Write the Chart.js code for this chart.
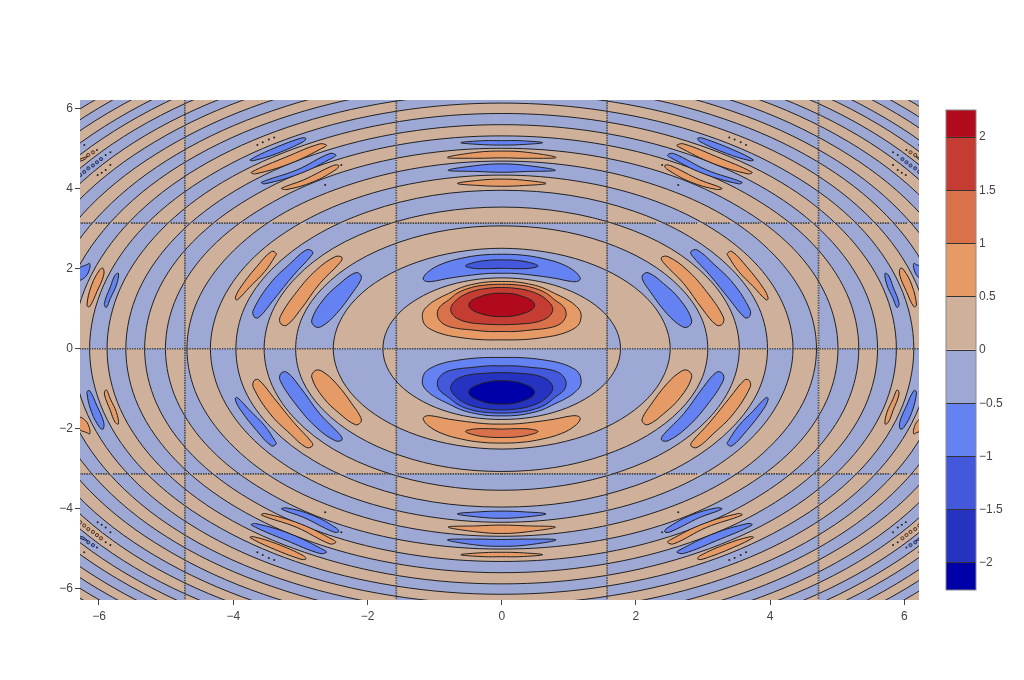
<!DOCTYPE html>
<html>
<head>
<meta charset="utf-8">
<script src="https://cdn.jsdelivr.net/npm/chart.js@4"></script>
<style>
  body { margin: 0; background: #fff; }
  #plot, #bar { position: absolute; top: 0; }
  #plot { left: 0; }
  #bar { left: 930px; }
</style>
</head>
<body>
<canvas id="plot" width="1024" height="680"></canvas>
<canvas id="bar" width="94" height="680"></canvas>
<script>
const xTicks = [-6, -4, -2, 0, 2, 4, 6];
const yTicks = [-6, -4, -2, 0, 2, 4, 6];
const barTicks = [-2, -1.5, -1, -0.5, 0, 0.5, 1, 1.5, 2];
const barLevels = [-2.254, -2, -1.5, -1, -0.5, 0, 0.5, 1, 1.5, 2, 2.254];

// fills, index 0 is the band next to zero
const upperFills = ["#cfb09a", "#e69a66", "#d9714a", "#c43c32", "#b10a1c"];
const lowerFills = ["#9da8d4", "#6482f2", "#4458dc", "#2632c0", "#0000a8"];

// where the pattern flips
const xBreaks = [-7, -4.72, -1.57, 1.57, 4.72, 7];
const yBreaks = [7, 3.14, 0, -3.13, -7];
// +1: the disc around the origin would be tan in this panel, -1: blue
const panelSigns = [
  [-1, 1, -1, 1, -1],
  [1, -1, 1, -1, 1],
  [-1, 1, -1, 1, -1],
  [1, -1, 1, -1, 1],
];
// pieces of the line at y = +-pi, right half, it breaks where a ring crosses
const piLineRuns = [[0,1.55],[1.64,2.31],[2.41,2.91],[3.0,3.41],[3.48,3.86],[3.9,4.25],[4.3,4.6],[4.66,4.93],[4.98,5.22],[5.27,5.52],[5.56,5.79],[5.83,6.05],[6.1,6.3]];

// zero contours, one quarter of each ring, x going from the x axis up to the y axis
const ringArcs = [
  [1.77, 1.71, 1.53, 1.25, 0.89, 0.46, 0],
  [2.51, 2.42, 2.17, 1.77, 1.25, 0.65, 0],
  [3.07, 2.97, 2.66, 2.17, 1.53, 0.79, 0],
  [3.54, 3.42, 3.07, 2.51, 1.77, 0.92, 0],
  [3.96, 3.83, 3.43, 2.8, 1.98, 1.03, 0],
  [4.34, 4.19, 3.76, 3.07, 2.17, 1.12, 0],
  [4.69, 4.53, 4.06, 3.32, 2.34, 1.21, 0],
  [5.01, 4.84, 4.34, 3.54, 2.51, 1.3, 0],
  [5.32, 5.14, 4.61, 3.76, 2.66, 1.38, 0],
  [5.6, 5.41, 4.85, 3.96, 2.8, 1.45, 0],
  [5.88, 5.68, 5.09, 4.16, 2.94, 1.52, 0],
  [6.14, 5.93, 5.32, 4.34, 3.07, 1.59, 0],
  [6.39, 6.17, 5.53, 4.52, 3.2, 1.65, 0],
  [6.63, 6.4, 5.74, 4.69, 3.32, 1.72, 0],
  [6.86, 6.63, 5.94, 4.85, 3.43, 1.78, 0],
  [7.09, 6.85, 6.14, 5.01, 3.55, 1.84, 0],
  [7.31, 7.06, 6.33, 5.17, 3.66, 1.89, 0],
  [7.52, 7.26, 6.51, 5.32, 3.76, 1.95, 0],
  [7.73, 7.47, 6.69, 5.47, 3.87, 2.0, 0],
  [7.93, 7.66, 6.87, 5.61, 3.97, 2.05, 0],
  [8.12, 7.84, 7.03, 5.74, 4.06, 2.1, 0],
  [8.31, 8.03, 7.2, 5.88, 4.16, 2.15, 0],
  [8.5, 8.21, 7.36, 6.01, 4.25, 2.2, 0],
  [8.68, 8.38, 7.52, 6.14, 4.34, 2.25, 0],
  [8.86, 8.56, 7.67, 6.26, 4.43, 2.29, 0],
];

// lenses on the y axis: band, then the right half of the outline, top to bottom
const axisLenses = [
  [1, [[0,1.68],[0.2,1.67],[0.4,1.62],[0.6,1.53],[0.79,1.38],[0.97,1.23],[1.09,1.09],[1.17,0.93],[1.18,0.76],[1.14,0.59],[1.04,0.47],[0.89,0.37],[0.7,0.3],[0.35,0.23],[0,0.22]]],
  [2, [[0,1.61],[0.25,1.59],[0.45,1.53],[0.65,1.4],[0.79,1.22],[0.92,1.05],[0.96,0.88],[0.93,0.72],[0.84,0.59],[0.67,0.51],[0.45,0.47],[0.2,0.43],[0,0.43]]],
  [3, [[0,1.53],[0.2,1.51],[0.4,1.45],[0.57,1.34],[0.67,1.22],[0.74,1.09],[0.76,0.97],[0.72,0.83],[0.62,0.72],[0.47,0.65],[0.3,0.62],[0,0.6]]],
  [4, [[0,1.385],[0.17,1.37],[0.32,1.3],[0.45,1.2],[0.49,1.09],[0.45,0.98],[0.32,0.88],[0.17,0.82],[0,0.8]]],
  [-1, [[0,2.36],[0.3,2.34],[0.6,2.26],[0.89,2.12],[1.09,1.93],[1.17,1.76],[1.14,1.69],[1.04,1.68],[0.79,1.76],[0.45,1.84],[0.2,1.88],[0,1.885]]],
  [-2, [[0,2.22],[0.2,2.21],[0.4,2.16],[0.54,2.07],[0.42,2.01],[0.2,2.0],[0,2.01]]],
  [-1, [[0,5.2],[0.27,5.2],[0.61,5.15],[0.27,5.1],[0,5.09]]],
  [1, [[0,4.94],[0.37,4.91],[0.81,4.78],[0.37,4.76],[0,4.77]]],
  [-1, [[0,4.62],[0.37,4.58],[0.8,4.46],[0.37,4.43],[0,4.41]]],
  [1, [[0,4.24],[0.34,4.21],[0.66,4.13],[0.34,4.08],[0,4.06]]],
];

// free standing lenses in the upper right quarter
const sideLenses = [
  [-1, [[2.1,1.84],[2.18,1.9],[2.41,1.63],[2.66,1.22],[2.83,0.72],[2.78,0.55],[2.68,0.56],[2.46,0.88],[2.21,1.43],[2.1,1.72]]],
  [1, [[2.38,2.28],[2.48,2.3],[2.76,1.97],[3.05,1.43],[3.3,0.8],[3.29,0.62],[3.2,0.59],[3.0,0.97],[2.71,1.63],[2.41,2.15]]],
  [-1, [[2.82,2.43],[2.91,2.47],[3.15,2.13],[3.45,1.63],[3.7,0.97],[3.69,0.8],[3.62,0.78],[3.4,1.22],[3.1,1.84],[2.83,2.34]]],
  [1, [[3.36,2.38],[3.43,2.43],[3.65,2.05],[3.9,1.51],[3.97,1.26],[3.94,1.22],[3.75,1.55],[3.53,1.93],[3.38,2.3]]],
  [-1, [[5.71,1.88],[5.76,1.84],[5.83,1.55],[5.92,1.13],[5.89,1.03],[5.83,1.26],[5.74,1.59]]],
  [1, [[5.94,2.01],[5.99,1.97],[6.11,1.59],[6.18,1.09],[6.14,1.05],[6.03,1.43],[5.93,1.84]]],
  [-1, [[6.14,2.13],[6.18,2.1],[6.3,2.0],[6.3,1.72],[6.2,1.8],[6.14,2.0]]],
  [-1, [[2.92,5.26],[3.0,5.26],[3.45,4.97],[3.75,4.72],[3.7,4.7],[3.35,4.88],[2.95,5.18]]],
  [1, [[2.61,5.09],[2.71,5.12],[3.2,4.8],[3.73,4.41],[3.67,4.37],[3.15,4.63],[2.63,5.05]]],
  [-1, [[2.47,4.84],[2.56,4.88],[3.05,4.47],[3.58,4.16],[3.53,4.12],[3.0,4.38],[2.51,4.78]]],
  [1, [[2.43,4.58],[2.51,4.58],[2.95,4.22],[3.28,4.01],[3.2,3.98],[2.81,4.17],[2.46,4.49]]],
  [1, [[6.17,4.8],[6.22,4.78],[6.32,4.7],[6.25,4.7]]],
];

// tiny closed contours and dots in the upper right quarter
const specksDark = [[6.22,5.09],[5.83,4.91],[5.9,4.84],[5.83,4.59],[5.9,4.47],[5.96,4.4],[6.02,4.34],[6.03,4.97],[3.39,5.28],[3.47,5.23],[3.56,5.16],[3.64,5.09],[2.63,4.09],[2.39,4.59]];
const specksLow = [[5.97,4.74],[6.03,4.66],[6.09,4.58],[6.16,4.51],[6.22,4.42],[6.28,4.34]];
const specksHigh = [[6.09,4.91],[6.16,4.84]];

const LINE = "#222";
const BREAK_LINE = { showLine: true, borderColor: "#444", borderWidth: 1.6, borderDash: [1.5, 1] };
const minus = (v) => String(v).replace("-", "\u2212");
const fillOf = (band) => (band > 0 ? upperFills[band] : lowerFills[-band]);

function fullRing(arc) {
  const quarter = arc.map((v, i) => ({ x: v, y: arc[arc.length - 1 - i] }));
  const upper = quarter.concat(quarter.slice(0, -1).reverse().map((p) => ({ x: -p.x, y: p.y })));
  return upper.concat(upper.slice(0, -1).reverse().map((p) => ({ x: p.x, y: -p.y })));
}

const datasets = [];
function push(ds) {
  ds.order = -datasets.length;
  datasets.push(ds);
}

ringArcs.forEach((arc) => {
  push({ isRing: true, closed: true, data: fullRing(arc), showLine: true, fill: false, tension: 0.34, borderColor: LINE, borderWidth: 1 });
});

xBreaks.slice(1, -1).forEach((x) => {
  push({ data: [{ x: x, y: -7 }, { x: x, y: 7 }], ...BREAK_LINE });
});
push({ data: [{ x: -7, y: 0 }, { x: 7, y: 0 }], ...BREAK_LINE });
[3.14, -3.13].forEach((y) => {
  piLineRuns.forEach(([a, b]) => {
    push({ data: [{ x: a, y: y }, { x: b, y: y }], ...BREAK_LINE });
    push({ data: [{ x: -b, y: y }, { x: -a, y: y }], ...BREAK_LINE });
  });
});

function pushLens(band, points) {
  push({
    closed: true,
    data: points,
    showLine: true,
    fill: "shape",
    backgroundColor: fillOf(band),
    tension: 0.4,
    borderColor: LINE,
    borderWidth: 1,
  });
}

[1, -1].forEach((sy) => {
  axisLenses.forEach(([band, half]) => {
    const right = half.map(([x, y]) => ({ x: x, y: y * sy }));
    const left = right.slice(0, -1).reverse().map((p) => ({ x: -p.x, y: p.y }));
    pushLens(band * sy, right.concat(left));
  });
  [1, -1].forEach((sx) => {
    sideLenses.forEach(([band, outline]) => {
      const pts = outline.map(([x, y]) => ({ x: x * sx, y: y * sy }));
      pts.push(pts[0]);
      pushLens(band * sy, pts);
    });
    [[specksDark, 0], [specksLow, -1], [specksHigh, 1]].forEach(([list, band]) => {
      push({
        data: list.map(([x, y]) => ({ x: x * sx, y: y * sy })),
        showLine: false,
        pointRadius: band ? 1.6 : 1,
        pointBorderWidth: band ? 0.8 : 0,
        pointBorderColor: LINE,
        pointBackgroundColor: band ? fillOf(band * sy) : LINE,
      });
    });
  });
});

// the first and last point of a closed outline have one neighbour only, give them the same curve as the rest
function smoothSeam(line, tension) {
  const pts = line.points;
  const cur = pts[0];
  const prev = pts[pts.length - 2];
  const next = pts[1];
  const d01 = Math.hypot(cur.x - prev.x, cur.y - prev.y);
  const d12 = Math.hypot(next.x - cur.x, next.y - cur.y);
  const fa = (tension * d01) / (d01 + d12);
  const fb = (tension * d12) / (d01 + d12);
  const last = pts[pts.length - 1];
  last.cp1x = cur.x - fa * (next.x - prev.x);
  last.cp1y = cur.y - fa * (next.y - prev.y);
  cur.cp2x = cur.x + fb * (next.x - prev.x);
  cur.cp2y = cur.y + fb * (next.y - prev.y);
}

// tan and blue panels: the rings together are filled even-odd inside each panel
const panelPaint = {
  id: "panelPaint",
  beforeDatasetsDraw(chart) {
    const { ctx, chartArea, scales } = chart;
    const rings = [];
    chart.data.datasets.forEach((ds, i) => {
      if (!ds.closed) return;
      const line = chart.getDatasetMeta(i).dataset;
      line.updateControlPoints(chartArea, "x");
      smoothSeam(line, ds.tension);
      if (ds.isRing) rings.push(line);
    });
    ctx.save();
    ctx.beginPath();
    ctx.rect(chartArea.left, chartArea.top, chartArea.width, chartArea.height);
    ctx.clip();
    panelSigns.forEach((row, r) => {
      row.forEach((sign, c) => {
        const left = scales.x.getPixelForValue(xBreaks[c]);
        const right = scales.x.getPixelForValue(xBreaks[c + 1]);
        const top = scales.y.getPixelForValue(yBreaks[r]);
        const bottom = scales.y.getPixelForValue(yBreaks[r + 1]);
        ctx.save();
        ctx.beginPath();
        ctx.rect(left, top, right - left, bottom - top);
        ctx.clip();
        // 25 rings: the disc round the origin has an odd count, so it gets the even-odd fill
        ctx.fillStyle = sign > 0 ? lowerFills[0] : upperFills[0];
        ctx.fillRect(left, top, right - left, bottom - top);
        ctx.beginPath();
        rings.forEach((line) => line.path(ctx));
        ctx.fillStyle = sign > 0 ? upperFills[0] : lowerFills[0];
        ctx.fill("evenodd");
        ctx.restore();
      });
    });
    ctx.restore();
  },
};

new Chart(document.getElementById("plot"), {
  type: "scatter",
  data: { datasets: datasets },
  plugins: [panelPaint],
  options: {
    responsive: false,
    animation: false,
    events: [],
    layout: { padding: { top: 100, right: 105 } },
    elements: { point: { radius: 0 }, line: { capBezierPoints: false } },
    plugins: { legend: { display: false }, tooltip: { enabled: false }, filler: { propagate: false } },
    scales: {
      x: {
        type: "linear",
        min: -6.283,
        max: 6.217,
        afterFit: (s) => { s.height = 80; },
        afterBuildTicks: (s) => { s.ticks = xTicks.map((v) => ({ value: v })); },
        grid: { drawOnChartArea: false, tickLength: 5, tickColor: "#444", tickWidth: 1 },
        border: { display: false },
        ticks: { color: "#444", font: { family: "Liberation Sans", size: 12 }, padding: 4, maxRotation: 0, callback: (v) => minus(v) },
      },
      y: {
        type: "linear",
        min: -6.283,
        max: 6.217,
        afterFit: (s) => { s.width = 80; },
        afterBuildTicks: (s) => { s.ticks = yTicks.map((v) => ({ value: v })); },
        grid: { drawOnChartArea: false, tickLength: 5, tickColor: "#444", tickWidth: 1 },
        border: { display: false },
        ticks: { color: "#444", font: { family: "Liberation Sans", size: 12 }, padding: 2, callback: (v) => minus(v) },
      },
    },
  },
});

// colour bar
const barFills = lowerFills.slice().reverse().concat(upperFills);
const barFrame = {
  id: "barFrame",
  afterDraw(chart) {
    const { ctx, chartArea: a } = chart;
    ctx.save();
    ctx.strokeStyle = "#888";
    ctx.lineWidth = 1;
    ctx.strokeRect(a.left, a.top, a.width, a.height);
    ctx.restore();
  },
};

new Chart(document.getElementById("bar"), {
  type: "bar",
  data: {
    labels: ["z"],
    datasets: barFills.map((color, i) => ({
      data: [[barLevels[i], barLevels[i + 1]]],
      backgroundColor: color,
      borderWidth: 0,
      barPercentage: 1,
      categoryPercentage: 1,
      grouped: false,
    })),
  },
  plugins: [barFrame],
  options: {
    responsive: false,
    animation: false,
    events: [],
    layout: { padding: { top: 110, bottom: 90, left: 16 } },
    plugins: { legend: { display: false }, tooltip: { enabled: false } },
    scales: {
      x: { display: false },
      y: {
        position: "right",
        min: -2.254,
        max: 2.254,
        afterFit: (s) => { s.width = 48; },
        afterBuildTicks: (s) => { s.ticks = barTicks.map((v) => ({ value: v })); },
        // the level lines across the bar
        grid: { z: 1, color: "#333", lineWidth: 1, drawTicks: false },
        border: { display: false },
        ticks: { color: "#444", font: { family: "Liberation Sans", size: 12 }, padding: 3, callback: (v) => minus(v) },
      },
    },
  },
});
</script>
</body>
</html>
